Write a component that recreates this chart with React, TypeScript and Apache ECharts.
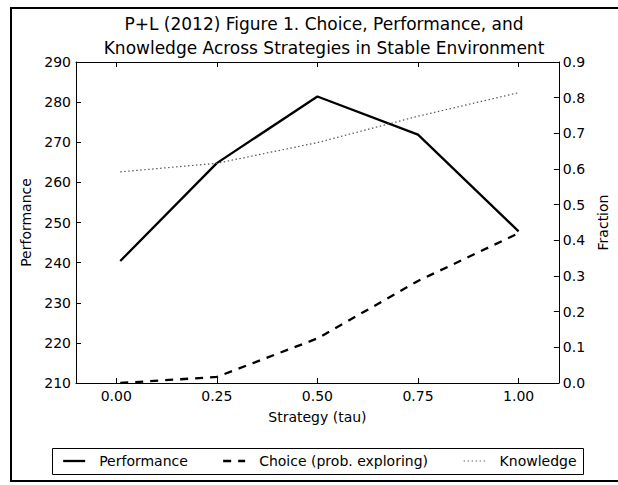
import React, { useEffect, useRef } from "react";
import * as echarts from "echarts";

const tau = [0.01, 0.25, 0.5, 0.75, 1.0];
const performance = [240.4, 264.8, 281.4, 271.9, 247.8];
const choice = [0.0, 0.017, 0.125, 0.286, 0.42];
const knowledge = [0.592, 0.616, 0.674, 0.748, 0.814];
const xTicks = [0, 0.25, 0.5, 0.75, 1.0];

const FONT = "DejaVu Sans";
const FS = 14;

export default function App() {
  const ref = useRef<HTMLDivElement>(null);
  useEffect(() => {
    if (!ref.current) return;
    const chart = echarts.init(ref.current, null, { renderer: "svg" });
    const pair = (ys: number[]) => tau.map((t, i) => [t, ys[i]]);
    const axisLine = { show: true, onZero: false, lineStyle: { color: "#000", width: 1 } };
    const legendBase = {
      orient: "horizontal",
      padding: 0,
      itemWidth: 22,
      itemHeight: 14,
      top: 454,
      itemStyle: { opacity: 0 },
      textStyle: { fontFamily: FONT, fontSize: FS, color: "#000", padding: [0, 0, 0, 9] },
      selectedMode: false,
    };
    chart.setOption({
      animation: false,
      backgroundColor: "#fff",
      title: {
        text: "P+L (2012) Figure 1. Choice, Performance, and\nKnowledge Across Strategies in Stable Environment",
        left: 319,
        top: 7,
        textAlign: "center",
        textStyle: { fontFamily: FONT, fontSize: 17, fontWeight: "normal", color: "#000", lineHeight: 24 },
      },
      graphic: [
        {
          type: "rect",
          shape: { x: 11, y: 8, width: 620, height: 473 },
          style: { fill: "none", stroke: "#000", lineWidth: 2 },
          silent: true,
        },
        {
          type: "rect",
          shape: { x: 52.5, y: 448.5, width: 531, height: 26 },
          style: { fill: "none", stroke: "#000", lineWidth: 1 },
          silent: true,
        },
      ],
      legend: [
        {
          ...legendBase,
          left: 62,
          data: ["Performance"],
          lineStyle: { color: "#000", width: 2.3, type: "solid" },
        },
        {
          ...legendBase,
          left: 222,
          data: ["Choice (prob. exploring)"],
          lineStyle: { color: "#000", width: 2.3, type: [8, 7] },
        },
        {
          ...legendBase,
          left: 463,
          data: ["Knowledge"],
          lineStyle: { color: "#666", width: 1.2, type: [1.5, 2.5] },
        },
      ],
      grid: { left: 76, right: 56, top: 62, bottom: 102, show: false },
      xAxis: [
        {
          type: "value",
          min: -0.1,
          max: 1.1,
          position: "bottom",
          name: "Strategy (tau)",
          nameLocation: "middle",
          nameGap: 27,
          nameTextStyle: { fontFamily: FONT, fontSize: FS, color: "#000" },
          axisLine,
          splitLine: { show: false },
          axisTick: { show: true, inside: true, length: 5, customValues: xTicks, lineStyle: { color: "#000" } },
          axisLabel: {
            customValues: xTicks,
            margin: 6,
            fontFamily: FONT,
            fontSize: FS,
            color: "#000",
            formatter: (v: number) => v.toFixed(2),
          },
        },
        {
          type: "value",
          min: -0.1,
          max: 1.1,
          position: "top",
          axisLine,
          splitLine: { show: false },
          axisTick: { show: true, inside: true, length: 5, customValues: xTicks, lineStyle: { color: "#000" } },
          axisLabel: { show: false },
        },
      ],
      yAxis: [
        {
          type: "value",
          min: 210,
          max: 290,
          interval: 10,
          position: "left",
          name: "Performance",
          nameLocation: "middle",
          nameGap: 42,
          nameTextStyle: { fontFamily: FONT, fontSize: FS, color: "#000" },
          axisLine,
          splitLine: { show: false },
          axisTick: { show: true, inside: true, length: 5, lineStyle: { color: "#000" } },
          axisLabel: { margin: 5, fontFamily: FONT, fontSize: FS, color: "#000" },
        },
        {
          type: "value",
          min: 0,
          max: 0.9,
          interval: 0.1,
          position: "right",
          name: "Fraction",
          nameLocation: "middle",
          nameGap: 26,
          nameRotate: 90,
          nameTextStyle: { fontFamily: FONT, fontSize: FS, color: "#000" },
          axisLine,
          splitLine: { show: false },
          axisTick: { show: true, inside: true, length: 5, lineStyle: { color: "#000" } },
          axisLabel: {
            margin: 4,
            fontFamily: FONT,
            fontSize: FS,
            color: "#000",
            formatter: (v: number) => v.toFixed(1),
          },
        },
      ],
      series: [
        {
          name: "Performance",
          type: "line",
          xAxisIndex: 0,
          yAxisIndex: 0,
          data: pair(performance),
          symbol: "none",
          color: "#000",
          lineStyle: { color: "#000", width: 2.3, type: "solid" },
        },
        {
          name: "Choice (prob. exploring)",
          type: "line",
          xAxisIndex: 0,
          yAxisIndex: 1,
          data: pair(choice),
          symbol: "none",
          color: "#000",
          lineStyle: { color: "#000", width: 2.3, type: [8, 7] },
        },
        {
          name: "Knowledge",
          type: "line",
          xAxisIndex: 0,
          yAxisIndex: 1,
          data: pair(knowledge),
          symbol: "none",
          color: "#555",
          lineStyle: { color: "#555", width: 1.2, type: [1.5, 2.5] },
        },
      ],
    });
    return () => chart.dispose();
  }, []);
  return (
    <div
      ref={ref}
      style={{ position: "absolute", left: 0, top: 0, width: 618, height: 485 }}
    />
  );
}
